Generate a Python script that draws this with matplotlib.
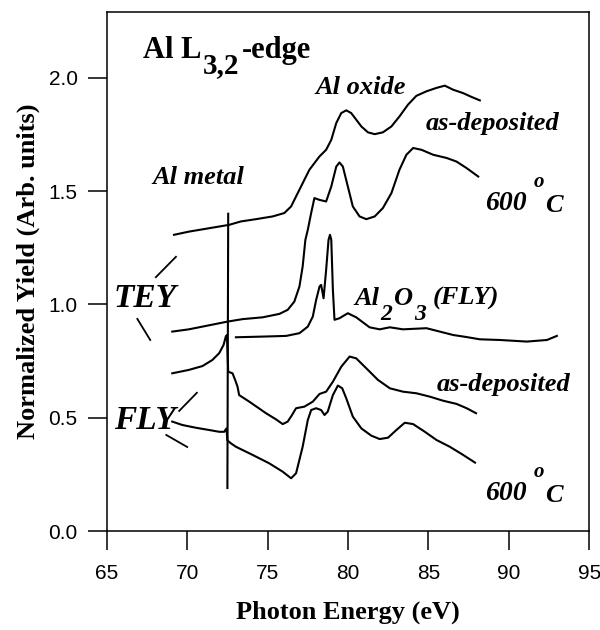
import matplotlib
matplotlib.use("Agg")
import matplotlib.pyplot as plt

# ---------------- data ----------------
# TEY, as-deposited
tey_dep_e = [69.18, 70.1, 71.36, 72.61, 73.34, 74.28, 75.31, 76.04, 76.46, 76.98, 77.6, 78.23,
             78.64, 78.96, 79.27, 79.58, 79.89, 80.2, 80.51, 80.83, 81.24, 81.66, 82.17, 82.7,
             83.2, 83.73, 84.25, 84.88, 85.5, 86.02, 86.54, 87.16, 87.69, 88.2]
tey_dep_y = [1.307, 1.321, 1.336, 1.351, 1.366, 1.376, 1.388, 1.403, 1.432, 1.506, 1.594, 1.653,
             1.682, 1.726, 1.80, 1.844, 1.856, 1.844, 1.815, 1.785, 1.759, 1.751, 1.759, 1.785,
             1.829, 1.881, 1.92, 1.94, 1.955, 1.965, 1.947, 1.932, 1.915, 1.90]

# TEY, 600 C
tey_600_e = [69.07, 70.1, 71.16, 72.5, 73.44, 74.69, 75.73, 76.25, 76.66, 76.98, 77.18, 77.35,
             77.5, 77.7, 77.91, 78.23, 78.64, 78.96, 79.27, 79.47, 79.68, 79.99, 80.3, 80.72,
             81.14, 81.66, 82.17, 82.7, 83.2, 83.63, 84.05, 84.57, 85.3, 86.13, 86.75, 87.38,
             88.1]
tey_600_y = [0.88, 0.89, 0.905, 0.924, 0.935, 0.943, 0.958, 0.976, 1.012, 1.079, 1.167, 1.285,
             1.329, 1.40, 1.469, 1.461, 1.454, 1.52, 1.608, 1.626, 1.608, 1.52, 1.432, 1.388,
             1.376, 1.388, 1.425, 1.491, 1.594, 1.66, 1.69, 1.682, 1.66, 1.646, 1.63, 1.601,
             1.564]

# Al2O3 reference (FLY)
al2o3_e = [73.03, 74.69, 76.15, 76.98, 77.5, 77.81, 78.02, 78.23, 78.33, 78.48, 78.64, 78.79,
           78.88, 78.96, 79.06, 79.16, 79.47, 79.99, 80.51, 81.34, 81.97, 82.6, 83.42, 84.88,
           86.54, 87.37, 88.2, 89.45, 91.12, 92.37, 92.99]
al2o3_y = [0.855, 0.858, 0.861, 0.873, 0.902, 0.946, 1.02, 1.079, 1.086, 1.027, 1.152, 1.285,
           1.307, 1.285, 1.064, 0.932, 0.939, 0.961, 0.943, 0.899, 0.89, 0.899, 0.89, 0.895,
           0.865, 0.856, 0.846, 0.843, 0.836, 0.843, 0.861]

# FLY, as-deposited
fly_dep_e = [69.07, 70.1, 70.95, 71.57, 71.99, 72.26, 72.4, 72.47, 72.55, 72.82, 72.98, 73.13,
             73.23, 73.86, 74.9, 75.52, 75.94, 76.25, 76.5, 76.77, 77.29, 77.81, 78.23, 78.64,
             79.06, 79.58, 80.1, 80.51, 81.14, 81.86, 82.6, 83.42, 84.25, 85.09, 85.92, 86.75,
             87.38, 87.96]
fly_dep_y = [0.696, 0.711, 0.728, 0.755, 0.785, 0.821, 0.858, 0.865, 0.703, 0.696, 0.667, 0.637,
             0.60, 0.571, 0.52, 0.493, 0.472, 0.483, 0.51, 0.542, 0.549, 0.571, 0.605, 0.615,
             0.659, 0.725, 0.77, 0.762, 0.718, 0.667, 0.63, 0.615, 0.608, 0.593, 0.575, 0.561,
             0.542, 0.52]

# FLY, 600 C
fly_600_e = [69.07, 69.7, 70.53, 71.36, 71.99, 72.3, 72.44, 72.5, 72.72, 73.03, 74.07, 75.1,
             75.94, 76.46, 76.77, 77.18, 77.5, 77.71, 78.02, 78.33, 78.54, 78.74, 79.06, 79.37,
             79.64, 79.89, 80.3, 80.83, 81.45, 81.97, 82.49, 83.01, 83.53, 84.05, 84.78, 85.5,
             86.33, 87.16, 87.9]
fly_600_y = [0.483, 0.468, 0.456, 0.446, 0.438, 0.438, 0.453, 0.40, 0.387, 0.372, 0.336, 0.299,
             0.262, 0.233, 0.255, 0.372, 0.49, 0.534, 0.542, 0.534, 0.512, 0.527, 0.60, 0.642,
             0.63, 0.586, 0.505, 0.453, 0.421, 0.406, 0.412, 0.446, 0.478, 0.472, 0.438, 0.402,
             0.372, 0.336, 0.302]

# Al metal edge marker
metal_e = [72.55, 72.5]
metal_y = [1.40, 0.19]

# bracket strokes next to the TEY / FLY labels
tey_br1_e, tey_br1_y = [68.05, 69.3], [1.12, 1.21]
tey_br2_e, tey_br2_y = [66.9, 67.7], [0.936, 0.843]
fly_br1_e, fly_br1_y = [69.5, 70.6], [0.53, 0.61]
fly_br2_e, fly_br2_y = [68.7, 70.0], [0.424, 0.371]

x_ticks = [65, 70, 75, 80, 85, 90, 95]
y_ticks = [0.0, 0.5, 1.0, 1.5, 2.0]

# ---------------- style ----------------
fig = plt.figure(figsize=(6.0, 6.3), dpi=100)
ax = fig.add_axes([0.178, 0.157, 0.804, 0.824])

lw = 1.5
for e, y in [(tey_dep_e, tey_dep_y), (tey_600_e, tey_600_y), (al2o3_e, al2o3_y),
             (fly_dep_e, fly_dep_y), (fly_600_e, fly_600_y), (metal_e, metal_y)]:
    ax.plot(e, y, color='black', lw=lw, solid_joinstyle='round')
for e, y in [(tey_br1_e, tey_br1_y), (tey_br2_e, tey_br2_y),
             (fly_br1_e, fly_br1_y), (fly_br2_e, fly_br2_y)]:
    ax.plot(e, y, color='black', lw=1.3)

ax.set_xlim(65, 95)
ax.set_ylim(0, 2.29)
ax.set_xticks(x_ticks)
ax.set_yticks(y_ticks)
ax.set_yticklabels([f"{v:.1f}" for v in y_ticks])
ax.tick_params(direction='out', length=14, width=1.1, labelsize=15, pad=7)
ax.tick_params(axis='x', pad=10)
for lab in ax.get_xticklabels() + ax.get_yticklabels():
    lab.set_fontfamily('Liberation Sans')
for s in ax.spines.values():
    s.set_linewidth(1.1)

ax.set_xlabel('Photon Energy (eV)', fontsize=19, fontweight='bold',
              fontfamily='Liberation Serif', labelpad=12)
ax.set_ylabel('Normalized Yield (Arb. units)', fontsize=19, fontweight='bold',
              fontfamily='Liberation Serif', labelpad=6)

serif_b = dict(fontfamily='Liberation Serif', fontweight='bold', color='black')
serif_bi = dict(fontfamily='Liberation Serif', fontweight='bold', fontstyle='italic',
                color='black')


def chain(prev, s, dx_pt, dy_pt, size, style):
    return ax.annotate(s, xy=(1, 0), xycoords=prev, xytext=(dx_pt, dy_pt),
                       textcoords='offset points', ha='left', va='bottom',
                       fontsize=size, **style)


# title: Al L_{3,2}-edge
t = ax.text(67.25, 2.085, 'Al L', fontsize=22, ha='left', va='baseline', **serif_b)
t = chain(t, '3,2', 1.0, -10.0, 21, serif_b)
chain(t, '-edge', 1.5, 10.0, 22, serif_b)

ax.text(80.8, 1.955, 'Al oxide', fontsize=19, ha='center', va='center', **serif_bi)
ax.text(89.0, 1.80, 'as-deposited', fontsize=19, ha='center', va='center', **serif_bi)
ax.text(70.7, 1.56, 'Al metal', fontsize=19, ha='center', va='center', **serif_bi)
ax.text(67.37, 1.024, 'TEY', fontsize=24, ha='center', va='center', **serif_bi)
ax.text(67.4, 0.486, 'FLY', fontsize=24, ha='center', va='center', **serif_bi)
ax.text(89.7, 0.645, 'as-deposited', fontsize=19, ha='center', va='center', **serif_bi)

# Al_2O_3 (FLY)
t = ax.text(80.41, 0.998, 'Al', fontsize=19, ha='left', va='baseline', **serif_bi)
t = chain(t, '2', 0.7, -10.8, 17, serif_bi)
t = chain(t, 'O', 0.5, 10.8, 19, serif_bi)
t = chain(t, '3', 1.5, -10.8, 17, serif_bi)
chain(t, '(FLY)', 5.0, 10.8, 19, serif_bi)

# 600 oC labels
for yb in (1.417, 0.137):
    t = ax.text(88.55, yb, '600', fontsize=20, ha='left', va='baseline', **serif_bi)
    t = chain(t, 'o', 4.5, 17.0, 15, serif_bi)
    chain(t, 'C', 0.8, -18.0, 19, serif_bi)

fig.savefig('out.png', dpi=100)
